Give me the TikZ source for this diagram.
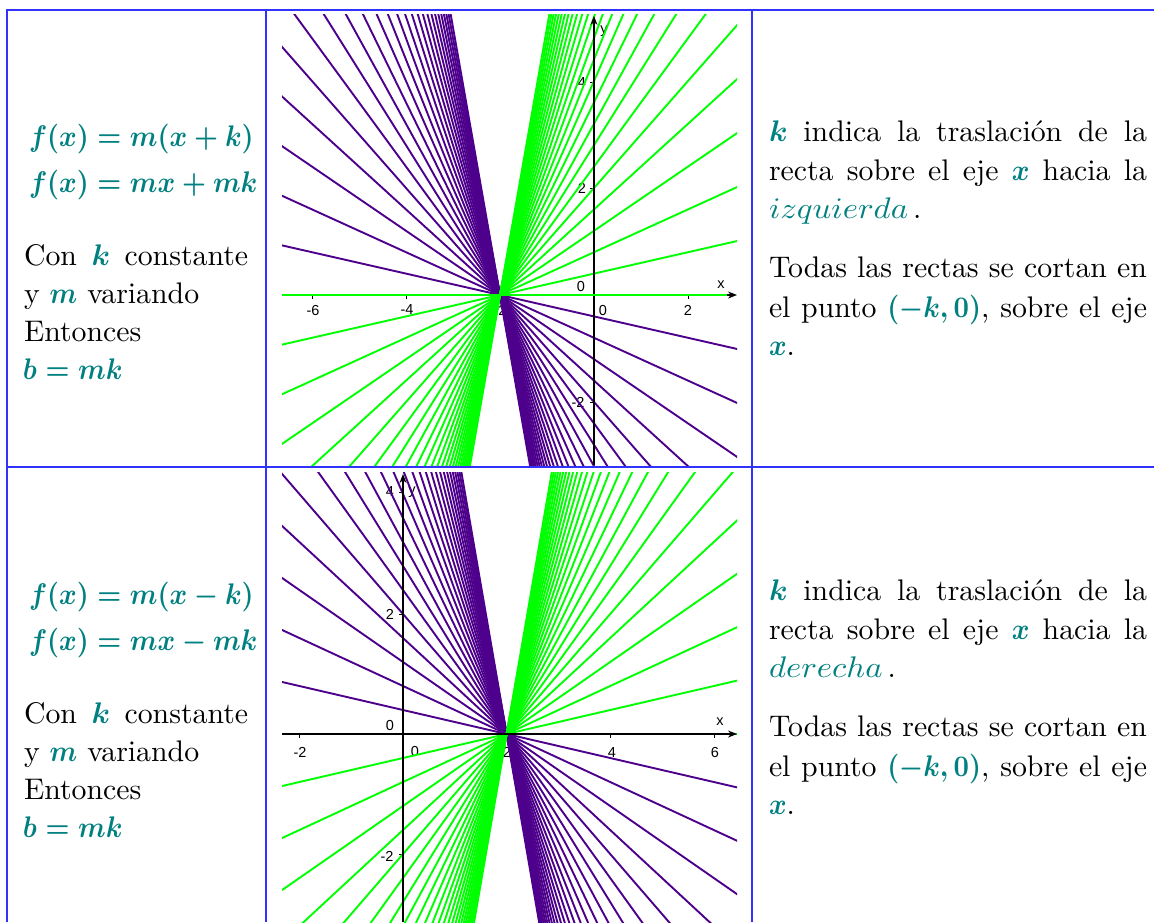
\documentclass[tikz,border=0pt]{standalone}
\usepackage{amsmath}
\usepackage{graphicx}
\usepackage{fontspec}
\newfontfamily\ggfont{Liberation Sans}
\usetikzlibrary{arrows.meta}
\definecolor{tealtext}{RGB}{0,128,128}
\definecolor{gridblue}{RGB}{50,50,255}
\definecolor{lpurple}{RGB}{77,0,140}
\definecolor{lgreen}{RGB}{0,255,0}
\tikzset{
  txt/.style={anchor=base west, inner sep=0pt, outer sep=0pt, scale=2.98, transform shape, font=\fontsize{10}{12}\selectfont},
  ticklab/.style={font=\fontsize{14.5}{16}\selectfont\ggfont, inner sep=0pt},
  rulel/.style={draw=gridblue, line width=2pt},
  fam/.style={line width=1.9pt},
  ax/.style={line width=1.2pt, draw=black},
  axarrow/.style={ax, -{Stealth[length=9pt,width=7pt]}},
  tk/.style={line width=1pt, draw=black}
}
\newcommand\tl[1]{\scalebox{0.9}[1]{\textcolor{tealtext}{\boldmath$#1$}}}
\newcommand\tlk[1]{\textcolor{tealtext}{\boldmath$#1$}}
\newcommand\itl[1]{\scalebox{1.1}[1]{\textcolor{tealtext}{$#1$}}}
\newcommand\jl[1]{\makebox[126.85pt][s]{#1}}
\begin{document}
\begin{tikzpicture}[x=1pt,y=-1pt]
\fill[white] (0,0) rectangle (1154,922);
\useasboundingbox (0,0) rectangle (1154,922);

% ---------- top plot ----------
\node[ticklab] (tx1) at (313,310) {-6};
\node[ticklab] (tx2) at (407,310) {-4};
\node[ticklab] (tx3) at (500,310) {-2};
\node[ticklab] (tx4) at (603,310) {0};
\node[ticklab] (tx5) at (688,310) {2};
\node[ticklab] (ty1) at (582,83) {4};
\node[ticklab] (ty2) at (582,188) {2};
\node[ticklab] (ty3) at (578,402) {-2};
\node[ticklab] (ty0) at (581,287) {0};
\node[ticklab] (txl) at (721,285) {x};
\node[ticklab] (tyl) at (604,31) {y};
\foreach \px in {312,406,500,688} \draw[tk] (\px,295) -- (\px,299);
\foreach \py in {82,188,402} \draw[tk] (590,\py) -- (594,\py);
\begin{scope}
  \clip (282,14) rectangle (737,465);
  \begin{scope}[shift={(594,295)}, x=47pt, y=53.5pt]
    \foreach \i in {1,...,25} \draw[fam,lpurple] (-7,\i) -- (4,{-1.2*\i});
    \foreach \i in {1,...,25} \draw[fam,lgreen] (-7,-\i) -- (4,{1.2*\i});
  \end{scope}
\end{scope}
\coordinate (tO1) at (282,295);
\coordinate (tE1) at (737,295);
\coordinate (tO2) at (594,465);
\coordinate (tE2) at (594,16);
\draw[axarrow] (tO2) -- (tE2);
\draw[axarrow] (tO1) -- (tE1);
\draw[fam,lgreen] (282,295) -- (727,295);

% ---------- bottom plot ----------
\node[ticklab] (bx1) at (300,752) {-2};
\node[ticklab] (bx2) at (415,751) {0};
\node[ticklab] (bx3) at (507,752) {2};
\node[ticklab] (bx4) at (612,752) {4};
\node[ticklab] (bx5) at (715,752) {6};
\node[ticklab] (by1) at (390,492) {4};
\node[ticklab] (by2) at (390,614) {2};
\node[ticklab] (by0) at (390,725) {0};
\node[ticklab] (by3) at (387,856) {-2};
\node[ticklab] (bxl) at (720,722) {x};
\node[ticklab] (byl) at (412,492) {y};
\foreach \px in {299,507,610,714} \draw[tk] (\px,734) -- (\px,738);
\foreach \py in {492,614,854} \draw[tk] (399,\py) -- (403,\py);
\begin{scope}
  \clip (282,472) rectangle (737,922);
  \begin{scope}[shift={(403,734)}, x=51.8pt, y=60pt]
    \draw[fam,lgreen] (-3,0) -- (7,0);
    \foreach \i in {1,...,25} \draw[fam,lpurple] (-3,\i) -- (7,-\i);
    \foreach \i in {1,...,25} \draw[fam,lgreen] (-3,-\i) -- (7,\i);
  \end{scope}
\end{scope}
\coordinate (bO1) at (282,734);
\coordinate (bE1) at (737,734);
\coordinate (bO2) at (403,922);
\coordinate (bE2) at (403,474);
\draw[axarrow] (bO2) -- (bE2);
\draw[axarrow] (bO1) -- (bE1);

% ---------- table rules ----------
\draw[rulel] (7,10) -- (1154,10);
\draw[rulel] (7,467) -- (1154,467);
\draw[rulel] (7,9) -- (7,922);
\draw[rulel] (266,10) -- (266,922);
\draw[rulel] (752,10) -- (752,922);

% ---------- left column ----------
\node[txt] (f1) at (29,146) {\tl{f(x)=m(x+k)}};
\node[txt] (f2) at (29,192) {\tl{f(x)=mx+mk}};
\node[txt] (c1) at (24,265) {\makebox[75.2pt][s]{Con \tlk{k} constante}};
\node[txt] (c2) at (24,303) {y \tl{m} variando};
\node[txt] (c3) at (24,341) {Entonces};
\node[txt] (c4) at (23,379) {\tl{b=mk}};

\node[txt] (g1) at (29,604) {\tl{f(x)=m(x-k)}};
\node[txt] (g2) at (29,650) {\tl{f(x)=mx-mk}};
\node[txt] (d1) at (24,723) {\makebox[75.2pt][s]{Con \tlk{k} constante}};
\node[txt] (d2) at (24,761) {y \tl{m} variando};
\node[txt] (d3) at (24,799) {Entonces};
\node[txt] (d4) at (23,837) {\tl{b=mk}};

% ---------- right column ----------
\node[txt] (r1) at (769,141) {\jl{\tlk{k} indica la traslación de la}};
\node[txt] (r2) at (769,180) {\jl{recta sobre el eje \tl{x} hacia la}};
\node[txt] (r3) at (769,218) {\itl{izquierda}\,.};
\node[txt] (r4) at (769,277) {\jl{Todas las rectas se cortan en}};
\node[txt] (r5) at (769,317) {\jl{el punto \tl{(-k,0)}, sobre el eje}};
\node[txt] (r6) at (769,355) {\tl{x}.};

\node[txt] (s1) at (769,600) {\jl{\tlk{k} indica la traslación de la}};
\node[txt] (s2) at (769,639) {\jl{recta sobre el eje \tl{x} hacia la}};
\node[txt] (s3) at (769,677) {\itl{derecha}\,.};
\node[txt] (s4) at (769,736) {\jl{Todas las rectas se cortan en}};
\node[txt] (s5) at (769,776) {\jl{el punto \tl{(-k,0)}, sobre el eje}};
\node[txt] (s6) at (769,814) {\tl{x}.};
\end{tikzpicture}
\end{document}
